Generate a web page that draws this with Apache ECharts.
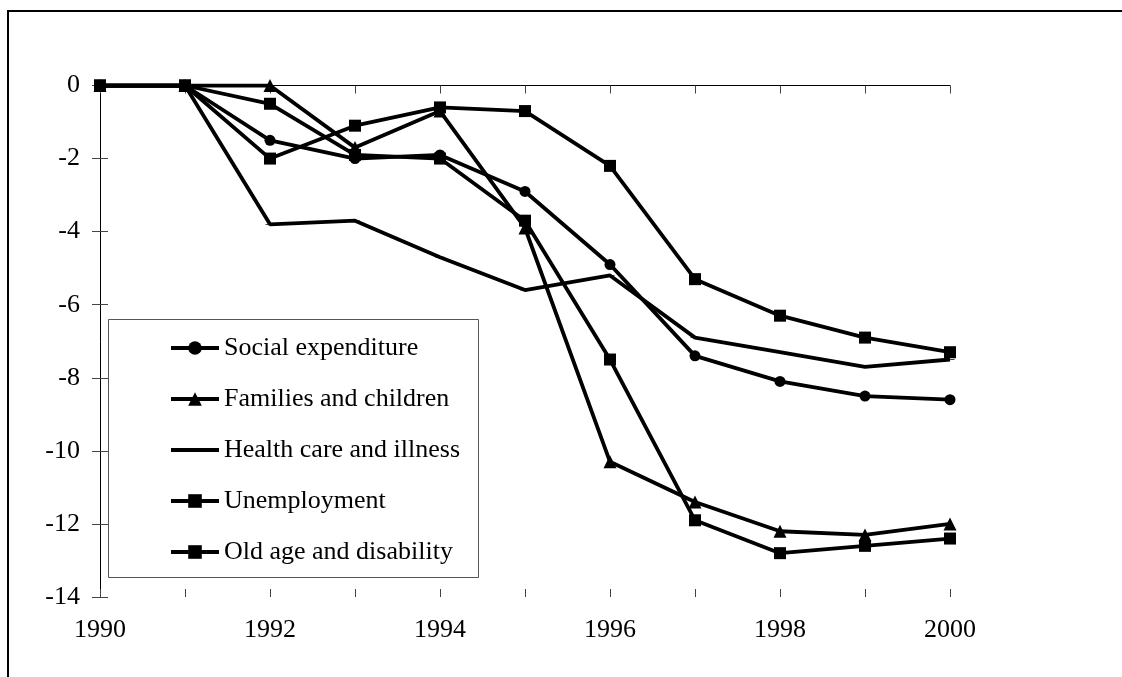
<!DOCTYPE html>
<html>
<head>
<meta charset="utf-8">
<script src="https://cdn.jsdelivr.net/npm/echarts@6/dist/echarts.min.js"></script>
<style>
html,body{margin:0;padding:0;background:#fff;}
#chart{width:1122px;height:677px;}
</style>
</head>
<body>
<div id="chart"></div>
<script>
var years = [1990,1991,1992,1993,1994,1995,1996,1997,1998,1999,2000];
var seriesNames = ['Social expenditure','Families and children','Health care and illness','Unemployment','Old age and disability'];
var socialExpenditure = [0,0,-1.5,-2.0,-1.9,-2.9,-4.9,-7.4,-8.1,-8.5,-8.6];
var familiesChildren = [0,0,0,-1.7,-0.7,-3.9,-10.3,-11.4,-12.2,-12.3,-12.0];
var healthCare = [0,0,-3.8,-3.7,-4.7,-5.6,-5.2,-6.9,-7.3,-7.7,-7.5];
var unemployment = [0,0,-0.5,-1.9,-2.0,-3.7,-7.5,-11.9,-12.8,-12.6,-12.4];
var oldAge = [0,0,-2.0,-1.1,-0.6,-0.7,-2.2,-5.3,-6.3,-6.9,-7.3];
var yTicks = [0,-2,-4,-6,-8,-10,-12,-14];
var xLabelYears = [1990,1992,1994,1996,1998,2000];

function pairs(vals){ return years.map(function(y,i){ return [y, vals[i]]; }); }

var FONT = 'Liberation Serif';
var chart = echarts.init(document.getElementById('chart'), null, {renderer:'canvas'});

function mk(name, vals, symbol, size){
  return {
    name: name, type: 'line', data: pairs(vals),
    symbol: symbol, symbolSize: size, symbolKeepAspect: true,
    lineStyle: {color:'#000', width:3.8},
    itemStyle: {color:'#000', borderWidth:0},
    emphasis: {disabled:true},
    animation: false,
    xAxisIndex: 0, yAxisIndex: 0
  };
}

var GRID_W = 850, GRID_H = 511.5;

var legendData = seriesNames.map(function(n, i){
  return i === 2 ? {name: n, icon: 'path://M0,0 H48 V4 H0 Z'} : {name: n};
});

var option = {
  backgroundColor: '#fff',
  animation: false,
  grid: {left:100, right:172, top:85.5, bottom:80, containLabel:false},
  graphic: [
    {type:'rect', shape:{x:8, y:11, width:1300, height:900}, style:{fill:'none', stroke:'#000', lineWidth:2}, silent:true, z:-1},
    {type:'rect', shape:{x:108.5, y:319.5, width:370, height:258}, style:{fill:'#fff', stroke:'#555', lineWidth:1}, silent:true, z:5}
  ],
  legend: {
    show: true,
    orient: 'vertical',
    left: 169, top: 335,
    padding: 0,
    itemWidth: 48, itemHeight: 17,
    itemGap: 25,
    z: 10,
    data: legendData,
    lineStyle: {width: 4},
    textStyle: {fontFamily: FONT, fontSize: 26, color:'#000'},
    selectedMode: false
  },
  xAxis: [
    {type:'value', min:1990, max:2000, interval:1, position:'bottom',
     axisLine:{show:true, lineStyle:{color:'#000', width:1}},
     axisTick:{show:true, inside:false, length:8, lineStyle:{color:'#444'}},
     axisLabel:{fontFamily:FONT, fontSize:26, color:'#000', margin:20,
       formatter:function(v){ return xLabelYears.indexOf(v) >= 0 ? String(v) : ''; }},
     splitLine:{show:false}},
    {type:'value', min:1990, max:2000, interval:1, position:'top', offset:-GRID_H,
     axisLine:{show:false}, axisTick:{show:true, inside:false, length:8, lineStyle:{color:'#444'}},
     axisLabel:{show:false}, splitLine:{show:false}}
  ],
  yAxis: [
    {type:'value', min:-14, max:0, interval:2, position:'left',
     axisLine:{show:true, lineStyle:{color:'#000', width:1}},
     axisTick:{show:true, inside:false, length:8, lineStyle:{color:'#444'}},
     axisLabel:{fontFamily:FONT, fontSize:26, color:'#000', margin:20,
       formatter:function(v){ return yTicks.indexOf(v) >= 0 ? String(v) : ''; }},
     splitLine:{show:false}},
    {type:'value', min:-14, max:0, interval:2, position:'right', offset:-GRID_W,
     axisLine:{show:false}, axisTick:{show:true, inside:false, length:8, lineStyle:{color:'#444'}},
     axisLabel:{show:false}, splitLine:{show:false}}
  ],
  series: [
    mk(seriesNames[0], socialExpenditure, 'circle', 11),
    mk(seriesNames[1], familiesChildren, 'triangle', 13),
    mk(seriesNames[2], healthCare, 'path://M0,0 H12 V3 H0 Z', [9,3]),
    mk(seriesNames[3], unemployment, 'rect', 12),
    mk(seriesNames[4], oldAge, 'rect', 12)
  ]
};
chart.setOption(option);
</script>
</body>
</html>
